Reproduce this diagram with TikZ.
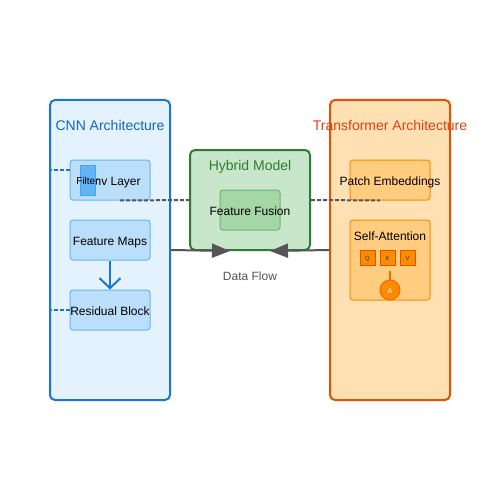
\documentclass[tikz,border=0pt]{standalone}
\usepackage{fontspec}
\setmainfont{Liberation Sans}
\usetikzlibrary{arrows.meta}

\definecolor{cnnfill}{HTML}{E3F2FD}
\definecolor{cnnline}{HTML}{1976D2}
\definecolor{cnntext}{HTML}{1565C0}
\definecolor{cnnbox}{HTML}{BBDEFB}
\definecolor{cnnboxline}{HTML}{64B5F6}
\definecolor{filterline}{HTML}{42A5F5}
\definecolor{hybfill}{HTML}{C8E6C9}
\definecolor{hybline}{HTML}{2E7D32}
\definecolor{fusefill}{HTML}{A5D6A7}
\definecolor{fuseline}{HTML}{66BB6A}
\definecolor{trfill}{HTML}{FFE0B2}
\definecolor{trline}{HTML}{E65100}
\definecolor{trtext}{HTML}{D84315}
\definecolor{trbox}{HTML}{FFCC80}
\definecolor{trboxline}{HTML}{FB8C00}
\definecolor{attline}{HTML}{EF6C00}
\definecolor{flowgray}{HTML}{555555}

\begin{document}
\begin{tikzpicture}[x=1pt,y=-1pt,
    panel/.style={draw, line width=2pt, rounded corners=5pt, minimum width=120pt, inner sep=0pt},
    block/.style={draw, line width=1pt, rounded corners=3pt, minimum width=80pt, minimum height=40pt,
        inner sep=0pt, font=\fontsize{12}{14}\selectfont, text height=10pt, text depth=0pt},
    cnnblock/.style={block, fill=cnnbox, draw=cnnboxline},
    trblock/.style={block, fill=trbox, draw=trboxline},
    title/.style={anchor=base, font=\fontsize{14}{16}\selectfont},
    qkv/.style={draw=trline, fill=trboxline, line width=1pt, minimum size=15pt, inner sep=0pt,
        text=black!80, font=\fontsize{6}{7}\selectfont, text height=5pt, text depth=0pt},
    graydash/.style={draw=flowgray, line width=2pt, dash pattern=on 4pt off 2pt},
    bluedash/.style={draw=cnnline, line width=2pt, dash pattern=on 4pt off 2pt},
    flow/.style={draw=flowgray, line width=2pt, -{Triangle[length=18pt,width=14pt]}}]
    \useasboundingbox (0,0) rectangle (500,500);
    \fill[white] (0,0) rectangle (500,500);
    % CNN side
    \node[panel, minimum height=300pt, fill=cnnfill, draw=cnnline] (cnn) at (110,250) {};
    \node[title, text=cnntext] (cnntitle) at (110,130) {CNN Architecture};
    \node[cnnblock] (conv) at (110,180) {Conv Layer};
    \node[draw=filterline, fill=cnnboxline, line width=1pt, minimum width=15pt, minimum height=30pt,
        inner sep=0pt, font=\fontsize{10}{12}\selectfont, text height=8pt, text depth=0pt]
        (filter) at (87.5,180) {\makebox[0pt]{Filter}};
    \node[cnnblock] (maps) at (110,240) {Feature Maps};
    \node[cnnblock] (res) at (110,310) {\makebox[0pt]{Residual Block}};
    \draw[cnnline, line width=2pt, -{Straight Barb[length=10pt,width=21pt]}] (maps.south) -- (res.north);
    \draw[bluedash] ([yshift=10pt]conv.west) -- ([yshift=10pt]conv.west -| cnn.west);
    \draw[bluedash] (res.west) -- (res.west -| cnn.west);
    % hybrid
    \node[panel, minimum height=100pt, fill=hybfill, draw=hybline] (hybrid) at (250,200) {};
    \node[title, text=hybline] (hybtitle) at (250,170) {Hybrid Model};
    \node[block, minimum width=60pt, fill=fusefill, draw=fuseline] (fusion) at (250,210) {\makebox[0pt]{Feature Fusion}};
    % transformer side
    \node[panel, minimum height=300pt, fill=trfill, draw=trline] (trans) at (390,250) {};
    \node[title, text=trtext] (trtitle) at (390,130) {Transformer Architecture};
    \node[trblock] (patch) at (390,180) {\makebox[0pt]{Patch Embeddings}};
    \node[trblock, minimum height=80pt] (att) at (390,260) {};
    \node[anchor=base, font=\fontsize{12}{14}\selectfont] (atttitle) at (390,240) {Self-Attention};
    \node[qkv] (Q) at (367.5,257.5) {Q};
    \node[qkv] (K) at (387.5,257.5) {K};
    \node[qkv] (V) at (407.5,257.5) {V};
    \node[circle, draw=attline, fill=trboxline, line width=1pt, minimum size=20pt, inner sep=0pt,
        text=white, font=\fontsize{7}{8}\selectfont, text height=6pt, text depth=0pt] (A) at (390,290) {A};
    \draw[attline, line width=2pt] ([yshift=-5pt]K.south -| A.north) -- (A.north);
    % links
    \draw[graydash] ([xshift=10pt]conv.south) -- (hybrid.west);
    \draw[graydash] (hybrid.east) -- ([xshift=-10pt]patch.south);
    \draw[flow] (cnn.east) -- ([xshift=-20pt]hybrid.south);
    \draw[flow] (trans.west) -- ([xshift=20pt]hybrid.south);
    \node[anchor=base, text=flowgray, font=\fontsize{12}{14}\selectfont] (flowlabel) at (250,280) {Data Flow};
\end{tikzpicture}
\end{document}
